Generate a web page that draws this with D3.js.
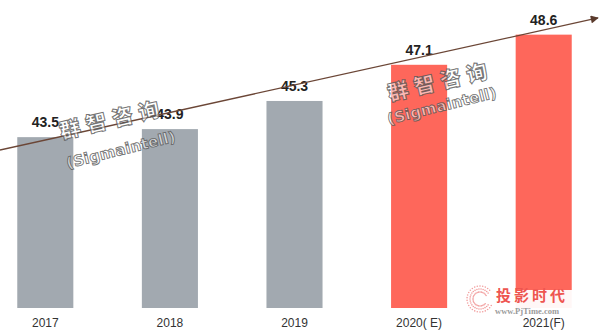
<!DOCTYPE html>
<html><head><meta charset="utf-8">
<script src="https://cdn.jsdelivr.net/npm/d3@7"></script>
<style>body{margin:0;background:#fff}svg{display:block}</style>
</head><body><svg id="c" width="600" height="334"></svg>
<script>
const categories = ["2017", "2018", "2019", "2020( E)", "2021(F)"];
const values = [43.5, 43.9, 45.3, 47.1, 48.6];
const kinds = ["actual", "actual", "actual", "forecast", "forecast"];
const trendValues = [42.86, 49.43];
const watermarkCN = "群智咨询";
const watermarkEN = "(Sigmaintell)";
const logoCN = "投影时代";
const logoURL = "www.PjTime.com";

const W = 600, H = 334;
const svg = d3.select("#c");
svg.append("rect").attr("width", W).attr("height", H).attr("fill", "#fff");

const x = d3.scaleBand().domain(categories).range([-17, 606])
  .paddingInner(0.55).paddingOuter(0.275);
const y = d3.scaleLinear().domain([35, 50]).range([308, 6.5]);
const color = d3.scaleOrdinal().domain(["actual", "forecast"]).range(["#a2a9b0", "#fe675b"]);
const data = categories.map((c, i) => ({c, v: values[i], k: kinds[i]}));

// bars
svg.append("g").selectAll("rect").data(data).join("rect")
  .attr("x", d => x(d.c)).attr("width", x.bandwidth())
  .attr("y", d => y(d.v)).attr("height", d => y(35) - y(d.v))
  .attr("fill", d => color(d.k));

// value labels
svg.append("g").selectAll("text").data(data).join("text")
  .attr("x", d => x(d.c) + x.bandwidth() / 2)
  .attr("y", d => y(d.v) - 10)
  .attr("text-anchor", "middle")
  .attr("font-family", "Liberation Sans, Arial, sans-serif")
  .attr("font-weight", "bold").attr("font-size", 14)
  .attr("fill", "#222").text(d => d.v.toFixed(1));

// axis
const ax = svg.append("g").attr("transform", `translate(0,${y(35)})`)
  .call(d3.axisBottom(x).tickSize(0).tickPadding(10.5));
ax.select(".domain").remove();
ax.selectAll("text").attr("font-family", "Liberation Sans, Arial, sans-serif")
  .attr("font-size", 12).attr("fill", "#333");

// trend arrow
const defs = svg.append("defs");
defs.append("marker").attr("id", "arr").attr("viewBox", "0 0 10 10")
  .attr("refX", 9).attr("refY", 5).attr("markerWidth", 9).attr("markerHeight", 8)
  .attr("markerUnits", "userSpaceOnUse").attr("orient", "auto")
  .append("path").attr("d", "M0,0L10,5L0,10Z").attr("fill", "#5a3a2c");
svg.append("line")
  .attr("x1", 0).attr("y1", y(trendValues[0]))
  .attr("x2", W - 2).attr("y2", y(trendValues[1]))
  .attr("stroke", "#6b4636").attr("stroke-width", 1.3)
  .attr("marker-end", "url(#arr)");

// watermarks
function watermark(cx, cy, cx2, cy2) {
  svg.append("text").attr("transform", `translate(${cx},${cy}) rotate(-13)`)
    .attr("text-anchor", "middle").attr("dominant-baseline", "central")
    .attr("font-family", "Noto Sans CJK SC").attr("font-weight", "900")
    .attr("font-size", 21).attr("letter-spacing", 6)
    .attr("fill", "rgba(255,255,255,0.55)").attr("stroke", "rgba(80,80,80,0.8)")
    .attr("stroke-width", 1).text(watermarkCN);
  svg.append("text").attr("transform", `translate(${cx2},${cy2}) rotate(-14)`)
    .attr("text-anchor", "middle").attr("dominant-baseline", "central")
    .attr("font-family", "DejaVu Sans, sans-serif").attr("font-weight", "bold")
    .attr("font-size", 15).attr("letter-spacing", 0.2)
    .attr("fill", "rgba(255,255,255,0.55)").attr("stroke", "rgba(80,80,80,0.8)")
    .attr("stroke-width", 0.9).text(watermarkEN);
}
watermark(112, 118, 121, 150);
watermark(440, 80, 442, 106);

// logo
const logo = svg.append("g");
logo.append("rect").attr("x", 462).attr("y", 290).attr("width", 138).attr("height", 26)
  .attr("fill", "#fff").attr("opacity", 0.95);
const ring = d3.range(0, 300, 12);
[13, 10, 7].forEach((r, j) => {
  logo.selectAll(null).data(ring).join("circle")
    .attr("cx", a => 480 + r * Math.cos((a + 30 + j * 6) * Math.PI / 180))
    .attr("cy", a => 299 + r * Math.sin((a + 30 + j * 6) * Math.PI / 180))
    .attr("r", 0.8).attr("fill", "#f2a0a0");
});
logo.append("text").attr("x", 496).attr("y", 301)
  .attr("font-family", "Noto Sans CJK SC").attr("font-weight", "bold")
  .attr("font-size", 15).attr("letter-spacing", 3).attr("fill", "#ee5550").text(logoCN);
logo.append("text").attr("x", 495).attr("y", 314)
  .attr("font-family", "Liberation Serif, serif").attr("font-weight", "bold")
  .attr("font-size", 8.5).attr("fill", "#9a9a9a").text(logoURL);
</script></body></html>
